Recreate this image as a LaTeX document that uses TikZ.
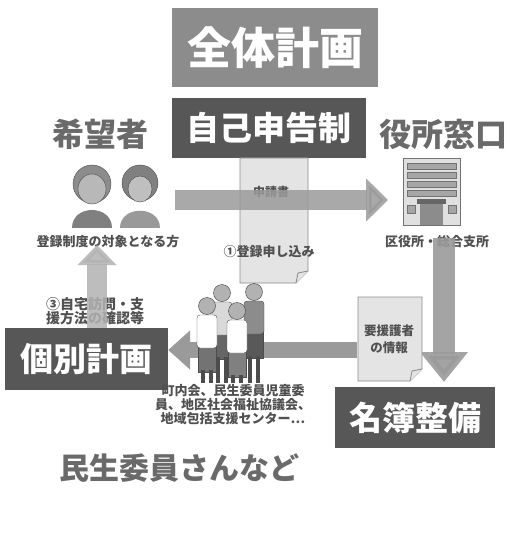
\documentclass[tikz,border=0pt]{standalone}
\usepackage{fontspec}
\setmainfont{Noto Sans CJK JP}
\usepackage{tikz}
\usetikzlibrary{arrows.meta,positioning}

\definecolor{boxgrey}{HTML}{8C8C8C}
\definecolor{boxdark}{HTML}{575757}
\definecolor{headgrey}{HTML}{6A6A6A}
\definecolor{textgrey}{HTML}{505050}
\definecolor{arrowgrey}{HTML}{9A9A9A}
\definecolor{papergrey}{HTML}{E4E4E4}
\definecolor{linegrey}{HTML}{8A8A8A}

\tikzset{
  titlebox/.style={fill=boxgrey, text=white, inner sep=0pt,
    font=\fontsize{44}{44}\selectfont\bfseries},
  darkbox/.style={fill=boxdark, text=white, inner sep=0pt,
    font=\fontsize{33}{33}\selectfont\bfseries},
  heading/.style={text=headgrey, inner sep=0pt,
    font=\fontsize{32}{32}\selectfont\bfseries},
  caption/.style={text=textgrey, inner sep=0pt, align=center,
    font=\fontsize{13}{14}\selectfont\bfseries},
  bigarrow/.style={draw=arrowgrey, line width=20pt,
    -{Triangle[length=22pt,width=42pt]}},
  paper/.style={fill=papergrey, draw=linegrey, line width=0.8pt},
}

\begin{document}
\begin{tikzpicture}[x=1pt,y=-1pt]
    \useasboundingbox (0,0) rectangle (510,545);

    % overall plan on top
    \node[titlebox, minimum width=206pt, minimum height=79pt] (plan) at (275,47.5) {全体計画};

    % self declaration box and the two sides
    \node[darkbox, minimum width=194pt, minimum height=60pt] (self) at (269,128) {自己申告制};
    \node[heading] (applicant) at (100,134) {希望者};
    \node[heading] (counter) at (443,134) {役所窓口};

    % application form under the box
    \draw[paper] (240,158) -- (308,158) -- (308,271) -- (296,283) -- (240,283) -- cycle;
    \draw[paper] (296,283) -- (298,273) -- (308,271);
    \node[text=textgrey, font=\fontsize{12}{12}\selectfont\bfseries] (form) at (271,192) {申請書};

    % elderly couple
    \fill[black!50] (72,228) .. controls (72,204) and (112,204) .. (112,228) -- cycle;
    \filldraw[fill=black!45, draw=black!70] (92,184) circle (19);
    \filldraw[fill=black!28, draw=black!70] (92,189) ellipse (14 and 15);
    \fill[black!40] (120,228) .. controls (120,205) and (160,205) .. (160,228) -- cycle;
    \filldraw[fill=black!50, draw=black!70] (140,183) circle (18);
    \filldraw[fill=black!25, draw=black!70] (140,189) ellipse (12 and 13);
    \node[caption] (couple) at (108,242) {登録制度の対象となる方};

    % ward office building
    \filldraw[fill=black!12, draw=black!55, line width=0.8pt] (403,158) rectangle (460,225);
    \foreach \wy in {163,172,181,190}
      \filldraw[fill=black!35, draw=black!55] (407,\wy) rectangle (456,\wy+6);
    \filldraw[fill=black!35, draw=black!55] (407,205) rectangle (415,213);
    \filldraw[fill=black!35, draw=black!55] (448,205) rectangle (456,213);
    \fill[black!60] (417,199) rectangle (446,204);
    \fill[black!45] (420,204) rectangle (443,225);
    \node[caption] (office) at (437,242) {区役所・総合支所};

    % (1) registration request
    \coordinate (requestFrom) at (175,200);
    \coordinate (requestTo) at (388,200);
    \draw[bigarrow, opacity=0.85] (requestFrom) -- (requestTo);
    \node[caption] (request) at (269,252) {①登録申し込み};

    % roster
    \node[darkbox, minimum width=160pt, minimum height=61pt] (roster) at (415,417.5) {名簿整備};
    \coordinate (officeOut) at (444,238);
    \coordinate (rosterIn) at (444,382);
    \draw[bigarrow, line width=22pt, -{Triangle[length=30pt,width=46pt]}, opacity=0.9]
      (officeOut) -- (rosterIn);

    % information sheet
    \draw[paper] (358,297) -- (422,297) -- (422,369) -- (410,381) -- (358,381) -- cycle;
    \draw[paper] (410,381) -- (412,371) -- (422,369);
    \node[caption, font=\fontsize{12.5}{17}\selectfont\bfseries] (info) at (389,339) {要援護者\\の情報};

    % individual plan
    \node[darkbox, minimum width=163pt, minimum height=62pt] (individual) at (86.5,359) {個別計画};
    \coordinate (infoOut) at (357,350);
    \draw[bigarrow, line width=16pt, -{Triangle[length=22pt,width=38pt]}]
      (infoOut) -- (individual.east |- infoOut);

    % local supporters, back row first
    \foreach \hx/\hy/\top/\low in {222/293/black!15/black!60, 254/292/black!45/black!65,
                                    207/306/white/black!55, 237/311/white/black!50} {
      \filldraw[fill=\low, draw=black!70] (\hx-9,\hy+38) rectangle (\hx+9,\hy+66);
      \draw[black!70, line width=3.5pt] (\hx-4,\hy+64) -- (\hx-4,383);
      \draw[black!70, line width=3.5pt] (\hx+4,\hy+64) -- (\hx+4,383);
      \filldraw[fill=\top, draw=black!70, rounded corners=3pt] (\hx-10,\hy+9) rectangle (\hx+10,\hy+42);
      \filldraw[fill=black!30, draw=black!75] (\hx,\hy) circle (8.5);
    }
    \node[caption] (supporters) at (233,405) {町内会、民生委員児童委\\員、地区社会福祉協議会、\\地域包括支援センター…};
    \node[heading, font=\fontsize{30}{30}\selectfont\bfseries] (volunteers) at (179,468) {民生委員さんなど};

    % (3) home visit back to the applicant
    \node[caption, font=\fontsize{14}{14.5}\selectfont\bfseries] (visit) at (95,311) {③自宅訪問・支\\援方法の確認等};
    \coordinate (coupleIn) at (97,245);
    \draw[bigarrow, draw=black!30, -{Triangle[length=20pt,width=38pt]}, opacity=0.85]
      (individual.north -| coupleIn) -- (coupleIn);
  \end{tikzpicture}
\end{document}
